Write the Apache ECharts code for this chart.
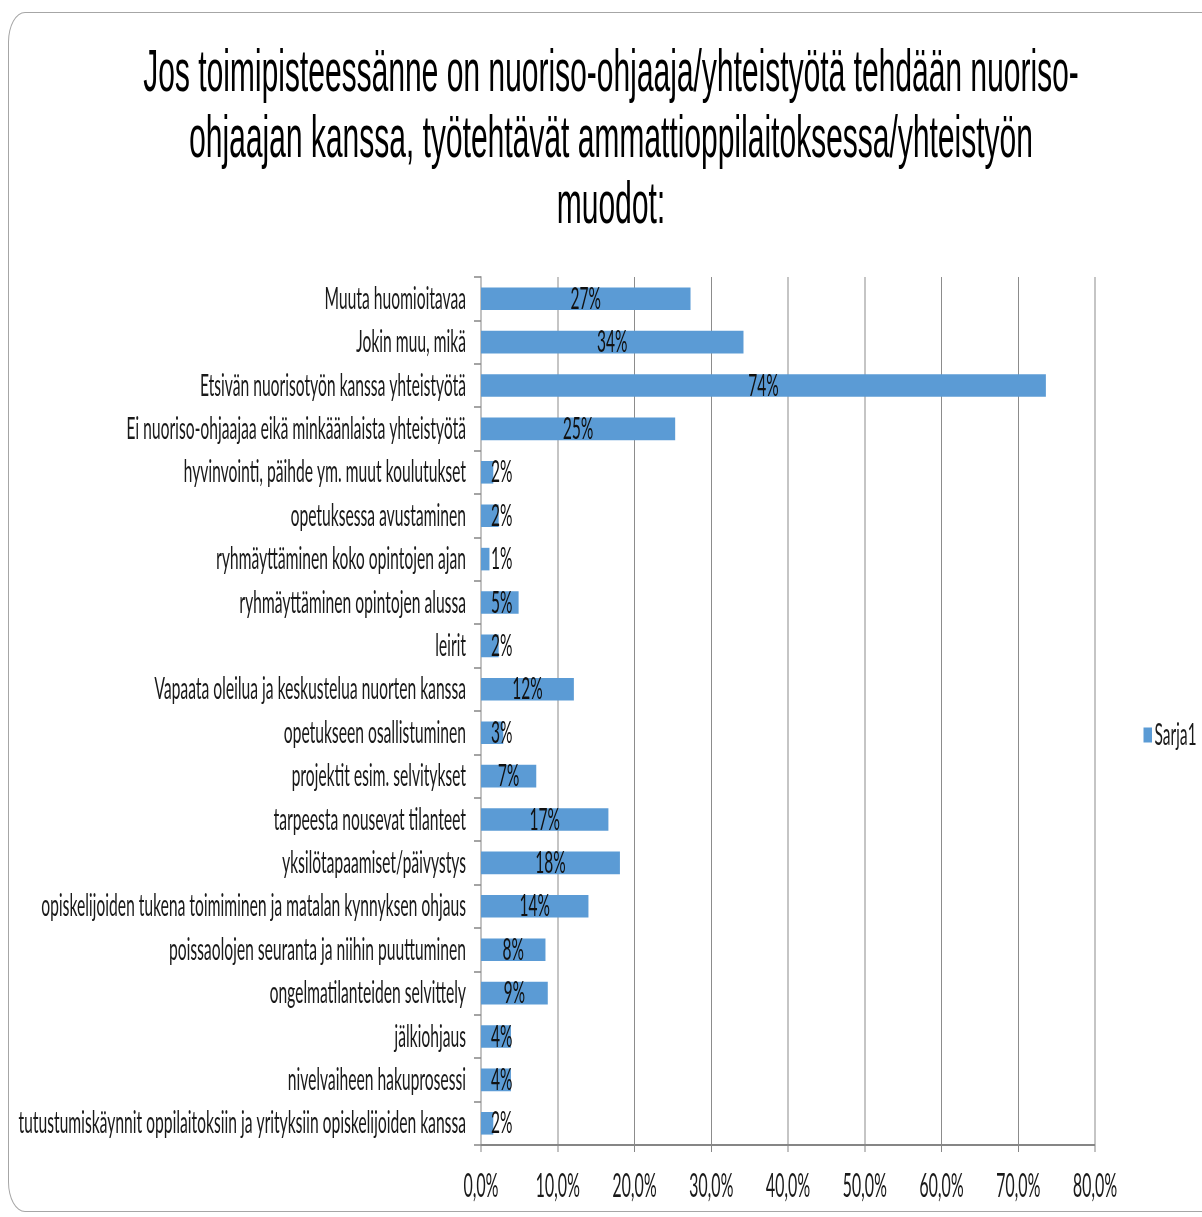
<!DOCTYPE html>
<html>
<head>
<meta charset="utf-8">
<script src="https://cdn.jsdelivr.net/npm/echarts@6/dist/echarts.min.js"></script>
<style>
  html, body { margin: 0; padding: 0; background: #fff; overflow: hidden; }
  #wrap { width: 1202px; height: 1217px; overflow: hidden; position: relative; background: #fff; }
  #chart { width: 2404px; height: 1217px; transform: scaleX(0.5); transform-origin: 0 0; position: absolute; left: 0; top: 0; }
  #frame { position: absolute; left: 8px; top: 12px; width: 1400px; height: 1200px; box-sizing: border-box;
           border: 1px solid #a6a6a6; border-radius: 17px / 30px; pointer-events: none; z-index: 2; }
</style>
</head>
<body>
<div id="wrap"><div id="chart"></div><div id="frame"></div></div>
<script>
const titleText = 'Jos toimipisteessänne on nuoriso-ohjaaja/yhteistyötä tehdään nuoriso-\nohjaajan kanssa, työtehtävät ammattioppilaitoksessa/yhteistyön\nmuodot:';
const seriesName = 'Sarja1';
// bottom to top
const categories = [
  'tutustumiskäynnit oppilaitoksiin ja yrityksiin opiskelijoiden kanssa',
  'nivelvaiheen hakuprosessi',
  'jälkiohjaus',
  'ongelmatilanteiden selvittely',
  'poissaolojen seuranta ja niihin puuttuminen',
  'opiskelijoiden tukena toimiminen ja matalan kynnyksen ohjaus',
  'yksilötapaamiset/päivystys',
  'tarpeesta nousevat tilanteet',
  'projektit esim. selvitykset',
  'opetukseen osallistuminen',
  'Vapaata oleilua ja keskustelua nuorten kanssa',
  'leirit',
  'ryhmäyttäminen opintojen alussa',
  'ryhmäyttäminen koko opintojen ajan',
  'opetuksessa avustaminen',
  'hyvinvointi, päihde ym. muut koulutukset',
  'Ei nuoriso-ohjaajaa eikä minkäänlaista yhteistyötä',
  'Etsivän nuorisotyön kanssa yhteistyötä',
  'Jokin muu, mikä',
  'Muuta huomioitavaa'
];
const values = [1.6, 3.9, 3.9, 8.7, 8.4, 14.0, 18.1, 16.6, 7.2, 2.9, 12.1, 2.3, 4.9, 1.1, 2.3, 1.6, 25.3, 73.6, 34.2, 27.3];
const xMin = 0, xMax = 80, xStep = 10;

const chart = echarts.init(document.getElementById('chart'), null, { renderer: 'canvas' });
const labelFont = 'Lato';
const option = {
  animation: false,
  backgroundColor: '#ffffff',
  title: {
    text: titleText,
    left: 1222,
    top: 41,
    padding: 0,
    textAlign: 'center',
    textStyle: { fontFamily: 'Liberation Sans', fontSize: 60, lineHeight: 66, fontWeight: 'normal', color: '#000' }
  },
  legend: {
    data: [seriesName],
    orient: 'vertical',
    left: 2287,
    top: 719,
    padding: 0,
    itemWidth: 17,
    itemHeight: 15,
    icon: 'rect',
    textStyle: { fontFamily: labelFont, fontSize: 31, lineHeight: 32, color: '#1a1a1a' }
  },
  grid: { left: 962, right: 214, top: 277, bottom: 72, containLabel: false },
  xAxis: {
    type: 'value',
    min: xMin, max: xMax, interval: xStep,
    axisLine: { show: true, lineStyle: { color: '#868686', width: 2 } },
    axisTick: { show: true, length: 7, lineStyle: { color: '#868686', width: 2 } },
    splitLine: { show: true, lineStyle: { color: '#8c8c8c', width: 2 } },
    axisLabel: {
      margin: 26,
      fontFamily: labelFont, fontSize: 32, color: '#1a1a1a',
      formatter: v => v.toFixed(1).replace('.', ',') + '%'
    }
  },
  yAxis: {
    type: 'category',
    data: categories,
    axisLine: { show: true, lineStyle: { color: '#868686', width: 2 } },
    axisTick: { show: true, length: 14, lineStyle: { color: '#868686', width: 1.5 } },
    axisLabel: { margin: 30, fontFamily: labelFont, fontSize: 31.3, color: '#1a1a1a' }
  },
  series: [{
    name: seriesName,
    type: 'bar',
    barCategoryGap: '48%',
    itemStyle: { color: '#5B9BD5' },
    label: {
      show: true,
      position: 'inside',
      fontFamily: labelFont, fontSize: 31, color: '#111',
      formatter: p => Math.round(p.value) + '%'
    },
    data: values.map(v => v < 6
      ? { value: v, label: { position: 'insideLeft', distance: 20 } }
      : { value: v })
  }]
};
chart.setOption(option);
</script>
</body>
</html>
